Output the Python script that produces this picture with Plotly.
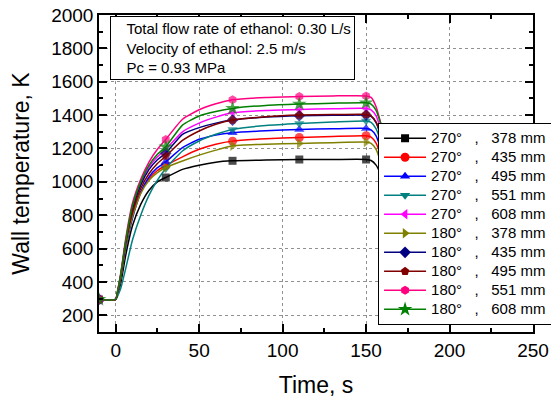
import plotly.graph_objects as go

# ---------------- data ----------------
TIME = [-10, 0, 1, 3, 6, 10, 15, 20, 25, 30, 40, 50, 60, 70, 90, 110, 130, 150, 153, 156, 159, 162, 170, 175]
MARK_TIMES = [-10, 30, 70, 110, 150]

ANGLES = ["270°", "270°", "270°", "270°", "270°", "180°", "180°", "180°", "180°", "180°"]
POSITIONS = ["378", "435", "495", "551", "608", "378", "435", "495", "551", "608"]

T_270_378 = [295, 295, 320, 390, 560, 735, 865, 950, 1000, 1026, 1075, 1100, 1118, 1126, 1131, 1134, 1134, 1134, 1128, 1100, 1040, 960, 760, 640]
T_270_435 = [295, 295, 330, 430, 620, 800, 940, 1020, 1068, 1098, 1150, 1195, 1225, 1244, 1258, 1266, 1272, 1276, 1268, 1232, 1150, 1040, 770, 630]
T_270_495 = [295, 295, 325, 420, 600, 780, 935, 1030, 1085, 1120, 1205, 1255, 1280, 1294, 1306, 1314, 1318, 1320, 1312, 1275, 1190, 1080, 810, 670]
T_270_551 = [295, 295, 312, 360, 480, 650, 800, 920, 1010, 1080, 1185, 1245, 1285, 1314, 1338, 1350, 1358, 1364, 1356, 1318, 1235, 1125, 850, 700]
T_270_608 = [295, 295, 330, 430, 630, 840, 990, 1090, 1150, 1195, 1300, 1352, 1388, 1414, 1428, 1434, 1438, 1440, 1432, 1395, 1310, 1200, 920, 770]
T_180_378 = [295, 295, 328, 420, 610, 790, 930, 1010, 1055, 1086, 1125, 1160, 1190, 1216, 1226, 1230, 1235, 1238, 1230, 1195, 1110, 1000, 740, 600]
T_180_435 = [295, 295, 335, 440, 640, 830, 980, 1075, 1132, 1172, 1285, 1325, 1352, 1370, 1388, 1396, 1399, 1400, 1392, 1355, 1270, 1160, 880, 730]
T_180_495 = [295, 295, 333, 435, 630, 815, 960, 1050, 1110, 1154, 1248, 1305, 1345, 1370, 1390, 1400, 1403, 1404, 1396, 1358, 1275, 1165, 885, 735]
T_180_551 = [295, 295, 340, 450, 660, 870, 1015, 1120, 1195, 1254, 1375, 1432, 1468, 1492, 1506, 1512, 1515, 1515, 1506, 1450, 1345, 1240, 980, 830]
T_180_608 = [295, 295, 338, 445, 645, 855, 1000, 1100, 1165, 1210, 1340, 1395, 1422, 1440, 1458, 1466, 1471, 1474, 1466, 1428, 1342, 1232, 950, 800]

SERIES = [T_270_378, T_270_435, T_270_495, T_270_551, T_270_608,
          T_180_378, T_180_435, T_180_495, T_180_551, T_180_608]

COLORS = ["#000000", "#FF0000", "#0000FF", "#008080", "#FF00FF",
          "#808000", "#000080", "#800000", "#FF0080", "#008000"]
SYMBOLS = ["square", "circle", "triangle-up", "triangle-down", "triangle-left",
           "triangle-right", "diamond", "pentagon", "hexagon", "star"]
MSIZES = [8, 9, 9, 9, 9, 9, 9, 9, 9, 11]

INFO_TEXT = ["Total flow rate of ethanol: 0.30 L/s", "Velocity of ethanol: 2.5 m/s", "Pc = 0.93 MPa"]

FONT = "Liberation Sans, Arial, sans-serif"
NB = "\u00a0"

fig = go.Figure()

for vals, col, sym, ms in zip(SERIES, COLORS, SYMBOLS, MSIZES):
    sizes = [ms if t in MARK_TIMES else 0 for t in TIME]
    fig.add_trace(go.Scatter(
        x=TIME, y=vals, mode="lines+markers", showlegend=False,
        line=dict(color=col, width=1.5, shape="spline", smoothing=0.5),
        marker=dict(symbol=sym, color=col, size=sizes, line=dict(width=0)),
        hoverinfo="skip"))

# legend entries
for ang, pos, col, sym, ms in zip(ANGLES, POSITIONS, COLORS, SYMBOLS, MSIZES):
    name = f'<span style="font-size:15px">{ang}{NB*3},{NB*3}{pos}{NB}mm</span>'
    fig.add_trace(go.Scatter(
        x=[None], y=[None], mode="lines+markers", name=name,
        line=dict(color=col, width=1.5),
        marker=dict(symbol=sym, color=col, size=ms)))

axis_common = dict(
    showline=True, linecolor="black", linewidth=1.5, mirror="allticks",
    ticks="inside", ticklen=8, tickwidth=1.5, tickcolor="black",
    showgrid=True, gridcolor="#909090", gridwidth=1, griddash="dot",
    zeroline=False, automargin=False, ticklabeloverflow="allow",
    tickfont=dict(size=19, color="black", family=FONT),
)

# page body has an 8px default margin, so the figure is sized to fit the window
fig.update_layout(
    width=551, height=390,
    margin=dict(l=91, r=26, t=7, b=66),
    paper_bgcolor="white", plot_bgcolor="white",
    font=dict(family=FONT, color="black"),
    xaxis=dict(range=[-10, 250], tick0=0, dtick=50,
               minor=dict(ticks="inside", ticklen=4, dtick=25, tick0=0, tickcolor="black", showgrid=False),
               title=dict(text="Time, s", font=dict(size=23), standoff=19),
               **axis_common),
    yaxis=dict(range=[100, 2000], tick0=0, dtick=200,
               minor=dict(ticks="inside", ticklen=4, dtick=100, tick0=0, tickcolor="black", showgrid=False),
               title=dict(text="Wall temperature, K", font=dict(size=23), standoff=28),
               **axis_common),
    legend=dict(x=0.643, y=0.66, xanchor="left", yanchor="top",
                bgcolor="white", bordercolor="black", borderwidth=1,
                itemwidth=42,
                font=dict(size=12.3, family=FONT), tracegroupgap=0),
    annotations=[dict(
        xref="paper", yref="paper", x=0.026, y=0.996, xanchor="left", yanchor="top",
        text="<br>".join(NB * 3 + s for s in INFO_TEXT), align="left", showarrow=False,
        font=dict(size=15, family=FONT, color="black"),
        bgcolor="white", bordercolor="black", borderwidth=1, borderpad=3)],
)

fig.write_html("out.html")
